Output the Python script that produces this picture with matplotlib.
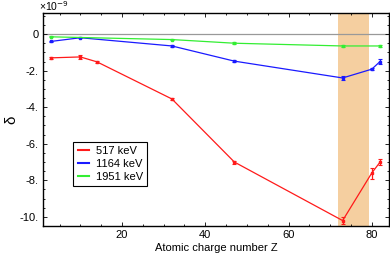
import numpy as np
from matplotlib import pyplot as plt
from matplotlib.ticker import MultipleLocator, FuncFormatter
from matplotlib.lines import Line2D

plt.rcParams['font.family'] = ['Liberation Sans', 'DejaVu Sans']
plt.rcParams['font.size'] = 8

# atomic charge number Z and delta (x 1e-9) per energy
z_517 = [3, 10, 14, 32, 47, 73, 80, 82]
d_517 = [-1.3, -1.25, -1.52, -3.55, -7.0, -10.2, -7.6, -7.0]
e_517 = [0.05, 0.1, 0.05, 0.04, 0.08, 0.2, 0.3, 0.15]

z_1164 = [3, 10, 32, 47, 73, 80, 82]
d_1164 = [-0.4, -0.2, -0.65, -1.48, -2.4, -1.92, -1.5]
e_1164 = [0.03, 0.03, 0.04, 0.04, 0.12, 0.06, 0.12]

z_1951 = [3, 32, 47, 73, 82]
d_1951 = [-0.15, -0.3, -0.5, -0.65, -0.65]
e_1951 = [0.03, 0.05, 0.04, 0.08, 0.08]

band = (71.8, 79.3)

fig = plt.figure(figsize=(3.9, 2.56), dpi=100)
ax = fig.add_axes([0.110, 0.117, 0.887, 0.832])

ax.axvspan(band[0], band[1], color='#f5cfa0', lw=0, zorder=0)
ax.axhline(0, color='#999999', lw=0.9, zorder=1)

series = [(z_517, d_517, e_517, '#ff1a1a', '517 keV'),
          (z_1164, d_1164, e_1164, '#1a1aff', '1164 keV'),
          (z_1951, d_1951, e_1951, '#33ee33', '1951 keV')]
for z, d, e, c, lab in series:
    ax.errorbar(z, d, yerr=e, color=c, lw=0.9, elinewidth=0.9, capsize=1.5,
                capthick=0.8, marker='s', ms=1.5, label=lab, zorder=3)

ax.set_xlim(1, 84.1)
ax.set_ylim(-10.5, 1.15)
ax.xaxis.set_major_locator(MultipleLocator(20))
ax.xaxis.set_minor_locator(MultipleLocator(5))
ax.yaxis.set_major_locator(MultipleLocator(2))
ax.yaxis.set_minor_locator(MultipleLocator(0.5))
ax.yaxis.set_major_formatter(FuncFormatter(lambda v, p: '0' if abs(v) < 1e-9 else '-%d.' % abs(round(v))))
ax.tick_params(which='both', direction='in', top=True, right=True, width=0.6)
ax.tick_params(which='major', length=3, pad=3)
ax.tick_params(which='minor', length=1.5)
for s in ax.spines.values():
    s.set_linewidth(1.0)

ax.set_xlabel('Atomic charge number Z', labelpad=2)
ax.set_ylabel('δ', fontsize=11, labelpad=1)
ax.text(-0.01, 1.0, '×10$^{-9}$', transform=ax.transAxes, ha='left', va='bottom', fontsize=7.5)

labels = [s[4] for s in series]
hs = [Line2D([], [], color=c, lw=1.5) for _, _, _, c, _ in series]
leg = ax.legend(hs, labels, loc='upper left', bbox_to_anchor=(0.072, 0.423),
                fancybox=False, edgecolor='black', framealpha=1,
                handlelength=1.0, handletextpad=0.6, labelspacing=0.25,
                borderpad=0.4, fontsize=8)
leg.get_frame().set_linewidth(0.8)

fig.savefig('out.png', dpi=100)
